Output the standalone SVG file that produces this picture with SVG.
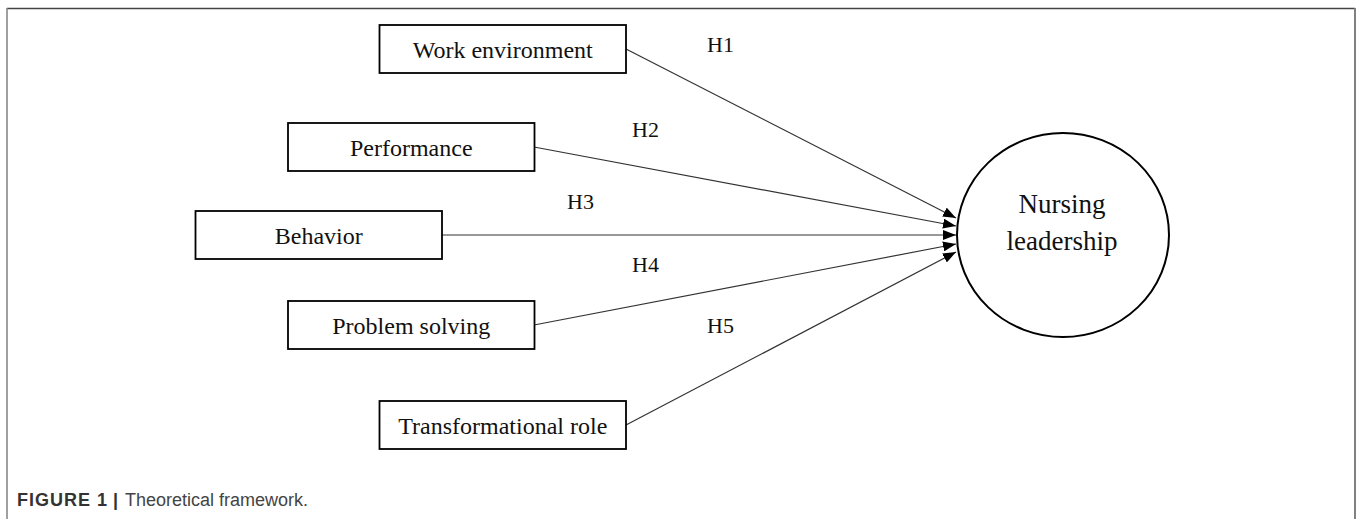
<svg xmlns="http://www.w3.org/2000/svg" width="1357" height="519" viewBox="0 0 1357 519">
<style>
.box{fill:#fff;stroke:#000;stroke-width:1.8}
.lbl{font-family:"Liberation Serif","Times New Roman",serif;font-size:24px;fill:#111;text-anchor:middle}
.h{font-family:"Liberation Serif","Times New Roman",serif;font-size:22px;fill:#111}
.conn{stroke:#333;stroke-width:1.2;fill:none;marker-end:url(#arr)}
.cap{font-family:"Liberation Sans",Arial,sans-serif;font-size:18px;fill:#333}
</style>
<defs>
<marker id="arr" markerUnits="userSpaceOnUse" markerWidth="13" markerHeight="10" refX="13" refY="5" orient="auto" viewBox="0 0 13 10">
<path d="M0,0 L13,5 L0,10 z" fill="#000"/>
</marker>
</defs>
<rect x="0" y="0" width="1357" height="519" fill="#fff"/>
<g id="frame" fill="none">
<line x1="7" y1="8.5" x2="1355" y2="8.5" stroke="#444" stroke-width="1.5"/>
<line x1="7" y1="8" x2="7" y2="519" stroke="#808080" stroke-width="1.5"/>
<line x1="1355" y1="8" x2="1355" y2="519" stroke="#808080" stroke-width="2"/>
</g>
<g id="connectors">
<line class="conn" x1="626" y1="49" x2="956" y2="218"/>
<line class="conn" x1="534" y1="147" x2="956" y2="226"/>
<line class="conn" x1="442" y1="235" x2="956" y2="235"/>
<line class="conn" x1="534" y1="325" x2="956" y2="244"/>
<line class="conn" x1="626" y1="425" x2="956" y2="252"/>
</g>
<g id="hlabels">
<text class="h" x="707" y="52">H1</text>
<text class="h" x="632" y="137">H2</text>
<text class="h" x="567" y="209">H3</text>
<text class="h" x="632" y="272">H4</text>
<text class="h" x="707" y="333">H5</text>
</g>
<g id="work-environment">
<rect class="box" x="379.5" y="25" width="246.5" height="48"/>
<text class="lbl" x="502.75" y="58">Work environment</text>
</g>
<g id="performance">
<rect class="box" x="288" y="123" width="246.5" height="48"/>
<text class="lbl" x="411.25" y="156">Performance</text>
</g>
<g id="behavior">
<rect class="box" x="195.5" y="211" width="246.5" height="48"/>
<text class="lbl" x="318.75" y="244">Behavior</text>
</g>
<g id="problem-solving">
<rect class="box" x="288" y="301" width="246.5" height="48"/>
<text class="lbl" x="411.25" y="334">Problem solving</text>
</g>
<g id="transformational-role">
<rect class="box" x="379.5" y="401" width="246.5" height="48"/>
<text class="lbl" x="502.75" y="434">Transformational role</text>
</g>
<g id="nursing-leadership">
<ellipse cx="1063" cy="235" rx="106" ry="102" fill="#fff" stroke="#000" stroke-width="2"/>
<text class="lbl" style="font-size:27px" x="1062" y="213">Nursing</text>
<text class="lbl" style="font-size:27px" x="1062" y="250">leadership</text>
</g>
<g id="caption">
<text class="cap" x="17" y="506"><tspan font-weight="bold" letter-spacing="1">FIGURE 1</tspan><tspan x="113" font-weight="bold">|</tspan><tspan x="125" fill="#444">Theoretical framework.</tspan></text>
</g>
</svg>
